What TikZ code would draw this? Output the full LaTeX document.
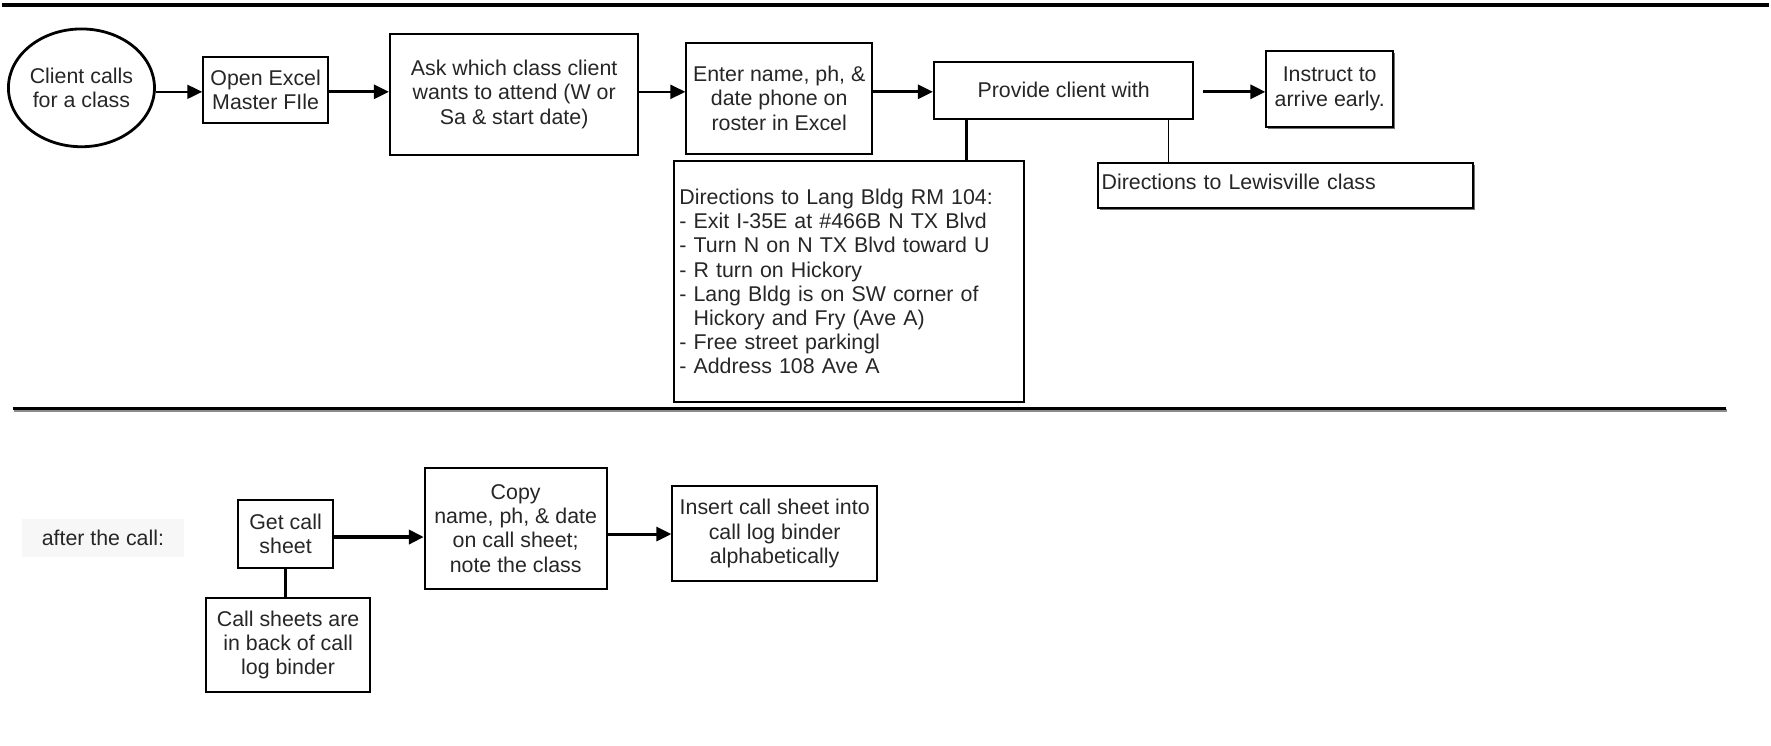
\documentclass[tikz,border=0pt]{standalone}
\usepackage{fontspec}
\setmainfont{Liberation Sans}
\usetikzlibrary{arrows.meta,shapes.geometric,shadows}
\begin{document}
\begin{tikzpicture}[x=0.5pt,y=-0.5pt,
  every node/.style={font=\fontsize{10.7}{12.1}\selectfont, text=black!85},
  box/.style={draw=black, line width=1pt, fill=white, align=center, inner sep=0pt},
  shade/.style={general shadow={fill=black!55, shadow xshift=1pt, shadow yshift=-1pt}},
  flow/.style={line width=1.5pt, -{Triangle[length=7.5pt,width=7pt]}},
  tie/.style={line width=1.5pt},
  thintie/.style={line width=0.6pt},
  rule/.style={line width=1.6pt}]

% page
\fill[white] (0,0) rectangle (1771,747);

% section rules
\coordinate (topL) at (0,5);
\coordinate (topR) at (1771,5);
\coordinate (midL) at (11,409);
\coordinate (midR) at (1728,409);
\coordinate (midLs) at (12,411.5);
\coordinate (midRs) at (1729,411.5);
\draw[rule] (topL) -- (topR);
\draw[rule, black!45] (midLs) -- (midRs);
\draw[rule] (midL) -- (midR);

% ---- during the call ----
\node[box, ellipse, line width=1.4pt, minimum width=69pt, minimum height=59pt] (call) at (80,88) {Client calls\\for a class};
\node[box, minimum width=62.5pt, minimum height=33pt] (open) at (264.5,90) {Open Excel\\Master FIle};
\node[box, minimum width=124.5pt, minimum height=60.5pt] (ask) at (513.5,94.5) {Ask which class client\\wants to attend (W or\\Sa \& start date)};
\node[box, minimum width=93pt, minimum height=55.5pt] (enter) at (779,98.5) {Enter name, ph, \&\\date phone on\\roster in Excel};
\node[box, minimum width=130pt, minimum height=28.5pt] (provide) at (1064,90.5) {Provide client with};
\node[box, shade, minimum width=63.5pt, minimum height=38pt] (instruct) at (1330.5,89) {Instruct to\\arrive early.};
\node[box, shade, minimum width=188pt, minimum height=22.5pt, text width=184pt, text height=8pt, text depth=3.5pt, align=left] (lewis) at (1286,185.5) {Directions to Lewisville class};
\node[box, minimum width=175pt, minimum height=121pt, text width=170pt, align=left] (dirs) at (849,282) {Directions to Lang Bldg RM 104:\\
- Exit I-35E at \#466B N TX Blvd\\
- Turn N on N TX Blvd toward U\\
- R turn on Hickory\\
- Lang Bldg is on SW corner of\\
\hphantom{- }Hickory and Fry (Ave A)\\
- Free street parkingl\\
- Address 108 Ave A};

\coordinate (row) at (0,92);
\draw[flow, line width=1pt] (call.east |- row) -- (open.west |- row);
\draw[flow] (open.east |- row) -- (ask.west |- row);
\draw[flow, line width=1.1pt] (ask.east |- row) -- (enter.west |- row);
\draw[flow] (enter.east |- row) -- (provide.west |- row);
\draw[flow, shorten <=4.5pt] (provide.east |- row) -- (instruct.west |- row);

\coordinate (tapA) at (967,0);
\coordinate (tapB) at (1169,0);
\draw[tie] (provide.south -| tapA) -- (dirs.north -| tapA);
\draw[thintie] (provide.south -| tapB) -- (lewis.north -| tapB);

% ---- after the call ----
\node[fill=black!3, minimum width=81.5pt, minimum height=19pt, inner sep=0pt] (after) at (101.5,539) {after the call:};
\node[box, minimum width=47.5pt, minimum height=34pt] (get) at (284.5,535) {Get call\\sheet};
\node[box, minimum width=82pt, minimum height=47pt] (binder) at (287,646) {Call sheets are\\in back of call\\log binder};
\node[box, minimum width=91pt, minimum height=60.5pt] (copy) at (515,529.5) {Copy\\name, ph, \& date\\on call sheet;\\note the class};
\node[box, minimum width=102.5pt, minimum height=47.5pt] (insert) at (774.5,534.5) {Insert call sheet into\\call log binder\\alphabetically};

\coordinate (rowA) at (0,538);
\coordinate (rowB) at (0,535);
\draw[flow, line width=2pt] (get.east |- rowA) -- (copy.west |- rowA);
\draw[flow] (copy.east |- rowB) -- (insert.west |- rowB);
\draw[tie] (get.south) -- (get.south |- binder.north);

\end{tikzpicture}
\end{document}
